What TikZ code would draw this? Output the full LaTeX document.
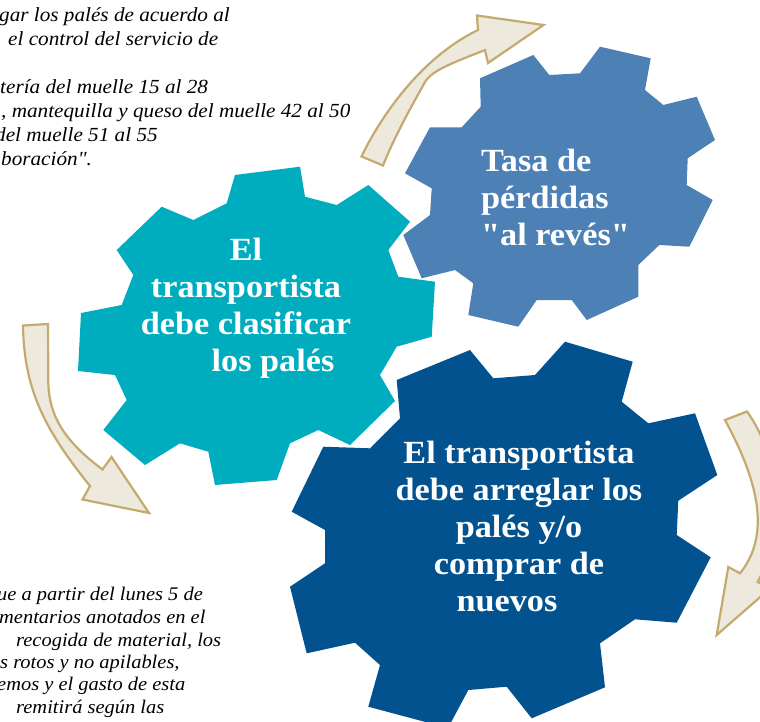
\documentclass[tikz,border=0pt]{standalone}
\usepackage{fontspec}
\setmainfont{Liberation Serif}[FakeStretch=1.06, Ligatures=TeXOff]
\definecolor{gearteal}{HTML}{00ADBF}
\definecolor{gearblue}{HTML}{4D81B5}
\definecolor{geardark}{HTML}{01528F}
\definecolor{arrowfill}{HTML}{EEE9DD}
\definecolor{arrowline}{HTML}{C4AA6E}
\newcommand\mycenterlines[1]{\vtop{\lineskiplimit=-100pt\halign{\hfil##\hfil\cr#1\crcr}}}
\newcommand\myleftlines[1]{\vtop{\lineskiplimit=-100pt\halign{##\hfil\cr#1\crcr}}}
\tikzset{
  gearlabel/.style={text=white, inner sep=0pt, font=\bfseries\fontsize{32.3}{37}\selectfont},
  notetop/.style={text=black, inner sep=0pt, anchor=base west, font=\itshape\fontsize{20}{24}\selectfont},
  notebot/.style={text=black, inner sep=0pt, anchor=base west, font=\itshape\fontsize{19.3}{22.6}\selectfont},
  bentarrow/.style={fill=arrowfill, draw=arrowline, line width=2.2pt, line join=miter},
}
\begin{document}
\begin{tikzpicture}[x=1pt,y=-1pt]
\useasboundingbox (0,0) rectangle (760,721);
\clip (0,0) rectangle (760,721);
\fill[white] (0,0) rectangle (760,721);

% curved arrows
\draw[bentarrow] (361.5,156.5) .. controls (380,118) and (420,58) .. (478,30)
  -- (477,15.5) -- (543.5,25) -- (488,63) -- (485,50)
  .. controls (455,62) and (432,70) .. (425,82)
  .. controls (415,100) and (395,135) .. (383,165.5) -- cycle;
\draw[bentarrow] (23,325.5) .. controls (24,390) and (45,430) .. (90,486)
  -- (82.5,499.5) -- (149,513) -- (111.5,457) -- (102.5,469.5)
  .. controls (70,445) and (48,420) .. (48.3,380) -- (48,324) -- cycle;
\draw[bentarrow] (725,420) .. controls (752,470) and (775,530) .. (740,573.3)
  -- (728.3,567) -- (716.7,635) -- (770,588.5) -- (757.7,581.9)
  .. controls (790,520) and (775,450) .. (747,411.5) -- cycle;

% gears
\fill[geardark] (325,530) -- (291.7,511.7) -- (323.3,446.7) -- (370,448.3)
  -- (400,418.3) -- (396.7,380) -- (470,350) -- (493.3,378.3)
  -- (535,375) -- (565,341.7) -- (632.7,361.7) -- (621.7,401.7)
  -- (648.3,423.3) -- (695,413.3) -- (717.3,475) -- (678.3,500.7)
  -- (676.7,535) -- (710.7,557.3) -- (676.7,622.7) -- (635,619.3)
  -- (600,643.3) -- (605,687.3) -- (531.7,718.3) -- (506.7,686.7)
  -- (468.3,690) -- (448,728) -- (368.3,706.7) -- (380,665)
  -- (355,642.7) -- (306.7,653.3) -- (290,586.7) -- (325,563.3) -- cycle;
\fill[gearteal] (226.7,203.3) -- (235,175) -- (300,166.7) -- (305,196.7)
  -- (336.7,205) -- (368.3,185) -- (410,221.7) -- (388.3,250)
  -- (398.3,276.7) -- (435,281.7) -- (431.7,336.7) -- (396.7,346.7)
  -- (380,375) -- (395,401) -- (350,445) -- (318.3,430)
  -- (290,443.3) -- (276.7,480) -- (215,485) -- (208.3,451.7)
  -- (180,443.3) -- (145,465) -- (103.3,430) -- (126.7,400)
  -- (115,375) -- (78,371) -- (81,313) -- (121.7,305)
  -- (133.3,275) -- (116.7,250) -- (161.7,206.7) -- (193.3,220) -- cycle;
\fill[gearblue] (480.7,106.7) -- (480,78.3) -- (533.3,55) -- (549.3,75)
  -- (580,73.3) -- (600,46.7) -- (650.7,58.3) -- (645,90)
  -- (663.3,105) -- (696.7,96.7) -- (715,140) -- (687.7,158.3)
  -- (686.7,185) -- (712.7,200) -- (689.3,246.7) -- (659.3,245)
  -- (638.3,265) -- (638.3,296.7) -- (586.7,320) -- (571.7,300)
  -- (536.7,300) -- (518.3,326.7) -- (468.3,315) -- (473.3,283.3)
  -- (455,270) -- (421.7,278.3) -- (403.3,235) -- (430,215)
  -- (431.7,188.3) -- (405,173.3) -- (430,127.3) -- (461.7,127.3) -- cycle;

% gear labels
\node[gearlabel, anchor=base] (clasificar) at (246,260)
  {\mycenterlines{El\cr transportista\cr debe clasificar\cr \hskip54pt los palés}};
\node[gearlabel, anchor=base west] (tasa) at (481,171.7)
  {\myleftlines{Tasa de\cr pérdidas\cr "al revés"}};
\node[gearlabel, anchor=base] (arreglar) at (519,463.3)
  {\mycenterlines{El transportista\cr debe arreglar los\cr palés y/o\cr comprar de\cr nuevos\hskip24pt}};

% side notes (cut by the page edge)
\node[notetop] (ta) at (-1,21.7) {gar los palés de acuerdo al};
\node[notetop] (tb) at (8,45.5) {el control del servicio de};
\node[notetop] (tc) at (0,93.5) {tería del muelle 15 al 28};
\node[notetop] (td) at (1,117.5) {, mantequilla y queso del muelle 42 al 50};
\node[notetop] (te) at (-5,141.5) {del muelle 51 al 55};
\node[notetop] (tf) at (1,165) {boración".};

\node[notebot] (ba) at (-3,600) {ue a partir del lunes 5 de};
\node[notebot] (bb) at (-1,623.3) {mentarios anotados en el};
\node[notebot] (bc) at (16,646) {recogida de material, los};
\node[notebot] (bd) at (0,668.5) {s rotos y no apilables,};
\node[notebot] (be) at (-3,690.7) {emos y el gasto de esta};
\node[notebot] (bf) at (16,713) {remitirá según las};
\end{tikzpicture}
\end{document}
